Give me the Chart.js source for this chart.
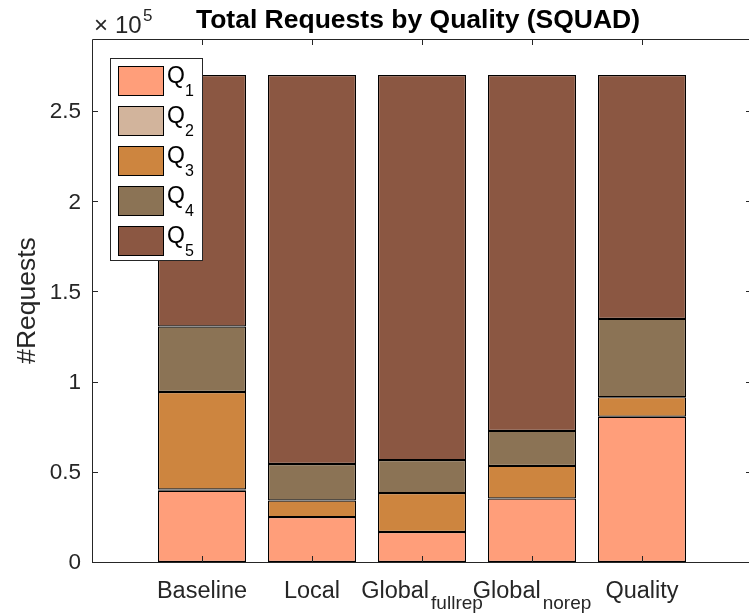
<!DOCTYPE html>
<html>
<head>
<meta charset="utf-8">
<script src="https://cdn.jsdelivr.net/npm/chart.js"></script>
<style>
  html, body { margin: 0; padding: 0; background: #fff; overflow: hidden; }
  #wrap { width: 749px; height: 616px; overflow: hidden; }
</style>
</head>
<body>
<div id="wrap"><canvas id="c" width="760" height="616"></canvas></div>
<script>
// categories, with the TeX-style subscript part kept apart
const categories = ['Baseline', 'Local', 'Global', 'Global', 'Quality'];
const categorySubs = ['', '', 'fullrep', 'norep', ''];
const xPos = [1, 2, 3, 4, 5];

// requests per quality level
const q1 = [39500, 24900, 16600, 35200, 80500];
const q2 = [700, 0, 0, 0, 0];
const q3 = [54100, 9200, 21600, 18100, 10900];
const q4 = [36300, 20200, 18300, 19400, 43400];
const q5 = [139400, 215700, 213500, 197300, 135200];

const yTicks = [0, 50000, 100000, 150000, 200000, 250000];
const yTickLabels = ['0', '0.5', '1', '1.5', '2', '2.5'];

const seriesNames = ['1', '2', '3', '4', '5'];
const seriesColors = ['#FF9E7A', '#D2B49C', '#CD853F', '#8B7355', '#8B5742'];

const AX = '#262626';
const FONT = '"Liberation Sans", Arial, Helvetica, sans-serif';

const toPoints = arr => arr.map((v, i) => ({ x: xPos[i], y: v }));

const overlay = {
  id: 'overlay',
  afterDraw(chart) {
    const ctx = chart.ctx;
    const a = chart.chartArea;
    const xs = chart.scales.x, ys = chart.scales.y;
    ctx.save();

    // box
    ctx.strokeStyle = AX;
    ctx.lineWidth = 1;
    ctx.beginPath();
    ctx.rect(a.left + 0.5, a.top + 0.5, a.right - a.left - 1, a.bottom - a.top);
    ctx.stroke();

    // ticks inward
    const tl = 6;
    ctx.beginPath();
    yTicks.forEach(v => {
      const y = Math.round(ys.getPixelForValue(v)) + 0.5;
      ctx.moveTo(a.left, y); ctx.lineTo(a.left + tl, y);
      ctx.moveTo(a.right, y); ctx.lineTo(a.right - tl, y);
    });
    xPos.forEach(v => {
      const x = Math.round(xs.getPixelForValue(v)) + 0.5;
      ctx.moveTo(x, a.bottom); ctx.lineTo(x, a.bottom - tl);
      ctx.moveTo(x, a.top); ctx.lineTo(x, a.top + tl);
    });
    ctx.stroke();

    // y tick labels
    ctx.fillStyle = AX;
    ctx.font = '22.5px ' + FONT;
    ctx.textAlign = 'right';
    ctx.textBaseline = 'middle';
    yTicks.forEach((v, i) => {
      ctx.fillText(yTickLabels[i], a.left - 11, ys.getPixelForValue(v) + 1);
    });

    // x tick labels with subscripts
    ctx.textBaseline = 'alphabetic';
    ctx.textAlign = 'left';
    categories.forEach((c, i) => {
      ctx.font = '23.5px ' + FONT;
      const w1 = ctx.measureText(c).width;
      ctx.font = '19px ' + FONT;
      const w2 = categorySubs[i] ? ctx.measureText(categorySubs[i]).width + 2 : 0;
      const x0 = xs.getPixelForValue(xPos[i]) - (w1 + w2) / 2;
      ctx.font = '23.5px ' + FONT;
      ctx.fillText(c, x0, 598);
      if (categorySubs[i]) {
        ctx.font = '19px ' + FONT;
        ctx.fillText(categorySubs[i], x0 + w1 + 2, 609);
      }
    });

    // exponent
    ctx.font = '24px ' + FONT;
    ctx.fillText('\u00d7', 94, 33);
    ctx.fillText('10', 115, 33);
    ctx.font = '17px ' + FONT;
    ctx.fillText('5', 143, 21);

    // y label
    ctx.save();
    ctx.translate(28, (a.top + a.bottom) / 2);
    ctx.rotate(-Math.PI / 2);
    ctx.textAlign = 'center';
    ctx.textBaseline = 'middle';
    ctx.font = '26.5px ' + FONT;
    ctx.fillText('#Requests', 0, 0);
    ctx.restore();

    // title
    ctx.fillStyle = '#000';
    ctx.font = 'bold 26.5px ' + FONT;
    ctx.textAlign = 'center';
    ctx.fillText('Total Requests by Quality (SQUAD)', (a.left + a.right) / 2 - 4, 28);

    // legend
    ctx.fillStyle = '#fff';
    ctx.fillRect(110, 58, 92, 202);
    ctx.strokeStyle = AX;
    ctx.strokeRect(110.5, 58.5, 92, 202);
    chart.data.datasets.forEach((ds, i) => {
      const top = 66 + i * 40;
      ctx.fillStyle = ds.backgroundColor;
      ctx.fillRect(118, top, 46, 30);
      ctx.strokeStyle = '#000';
      ctx.strokeRect(118.5, top + 0.5, 45, 29);
      ctx.fillStyle = '#000';
      ctx.textAlign = 'left';
      ctx.font = '23px ' + FONT;
      ctx.fillText('Q', 167, top + 17);
      ctx.font = '16px ' + FONT;
      ctx.fillText(seriesNames[i], 185, top + 30);
    });

    ctx.restore();
  }
};

const datasets = [q1, q2, q3, q4, q5].map((arr, i) => ({
  label: 'Q' + seriesNames[i],
  data: toPoints(arr),
  backgroundColor: seriesColors[i],
  borderColor: '#000',
  borderWidth: 1.2,
  borderSkipped: false,
  categoryPercentage: 1,
  barPercentage: 0.8
}));

new Chart(document.getElementById('c').getContext('2d'), {
  type: 'bar',
  data: { datasets },
  options: {
    responsive: false,
    animation: false,
    layout: { padding: { left: 92, right: 8, top: 39, bottom: 54 } },
    plugins: { legend: { display: false }, title: { display: false }, tooltip: { enabled: false } },
    scales: {
      x: { type: 'linear', min: 0, max: 6, offset: false, stacked: true, display: false },
      y: { min: 0, max: 290000, stacked: true, display: false }
    }
  },
  plugins: [overlay]
});
</script>
</body>
</html>
